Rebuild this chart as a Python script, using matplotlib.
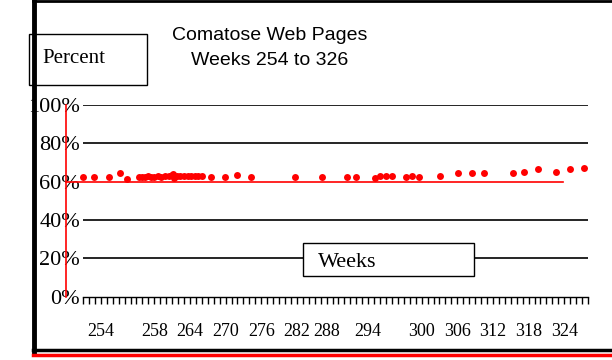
import matplotlib
matplotlib.use("Agg")
import matplotlib.pyplot as plt
from matplotlib.lines import Line2D
from matplotlib.patches import Rectangle

# week slot positions (category index along the axis) and percent comatose
x_pos = [0.0, 1.85, 4.4, 6.3, 7.4,
         9.5, 10.0, 10.5, 11.0, 11.5, 12.0, 12.6, 13.2, 13.8, 14.4,
         15.0, 15.2, 15.3, 15.8, 16.4, 17.0, 17.6, 18.2, 18.8, 19.4, 20.0,
         21.6, 23.9, 26.0, 28.3, 35.7, 40.2, 44.4, 45.9, 49.2, 50.0,
         51.0, 52.0, 54.4, 55.4, 56.6, 60.1, 63.1, 65.5, 67.5, 72.3,
         74.2, 76.5, 79.6, 82.0, 84.3]
pct = [62.4, 62.7, 62.4, 64.5, 61.4,
       62.6, 62.3, 62.4, 62.8, 62.5, 62.7, 63.0, 62.7, 63.2, 63.0,
       63.6, 64.2, 61.9, 63.0, 62.9, 63.1, 62.9, 62.8, 62.9, 62.9, 62.8,
       62.6, 62.6, 63.3, 62.6, 62.7, 62.6, 62.3, 62.3, 62.1, 63.0,
       63.0, 63.0, 62.6, 63.1, 62.6, 63.0, 64.4, 64.4, 64.3, 64.3,
       65.2, 66.4, 65.2, 66.4, 66.9]

n_slots = 85
label_pos = [3, 12, 18, 24, 30, 36, 41, 48, 57, 63, 69, 75, 81]
label_txt = ["254", "258", "264", "270", "276", "282", "288", "294",
             "300", "306", "312", "318", "324"]
grid_levels = [20, 40, 80, 100]
ref_level = 60
y_ticks = [0, 20, 40, 60, 80, 100]

serif = "Liberation Serif"
sans = "Liberation Sans"

W, H = 612, 360
fig = plt.figure(figsize=(W / 100, H / 100), dpi=100)
fig.patch.set_facecolor("white")

def fx(px):
    return px / W

def fy(py):
    return 1 - py / H

ax = fig.add_axes([fx(83), fy(296.7), fx(588) - fx(83), fy(105) - fy(296.7)])
ax.set_xlim(0, n_slots)
ax.set_ylim(0, 100)
for s in ["top", "right", "left"]:
    ax.spines[s].set_visible(False)
ax.spines["bottom"].set_linewidth(1)

for g in grid_levels:
    ax.axhline(g, color="black", lw=1.2, zorder=1)

# red reference line and red left rule
ax.axhline(ref_level, xmin=(66 - 83) / 505, xmax=(563 - 83) / 505,
           color="red", lw=1.2, clip_on=False, zorder=2)
ax.plot([(66 - 83) / 505] * 2, [0, 1], transform=ax.transAxes,
        color="red", lw=1.2, clip_on=False, zorder=2)

ax.plot(x_pos, pct, "o", color="red", markersize=5, markeredgewidth=0,
        zorder=3, clip_on=False)

ax.set_xticks(label_pos)
ax.set_xticklabels(label_txt, fontfamily=serif, fontsize=13)
ax.set_xticks(range(0, n_slots + 1), minor=True)
ax.tick_params(axis="x", which="both", direction="out", length=5,
               width=1, pad=14)
ax.set_yticks(y_ticks)
ax.set_yticklabels([f"{v}%" for v in y_ticks], fontfamily=serif, fontsize=16)
ax.tick_params(axis="y", length=0, pad=2)

# title
fig.text(fx(270), fy(40), "Comatose Web Pages", ha="center", va="baseline",
         fontsize=14, fontfamily=sans)
fig.text(fx(270), fy(65), "Weeks 254 to 326", ha="center", va="baseline",
         fontsize=14, fontfamily=sans)

# label boxes
fig.add_artist(Rectangle((fx(29), fy(85)), fx(147) - fx(29), fy(34) - fy(85),
                         facecolor="white", edgecolor="black", lw=1,
                         transform=fig.transFigure))
fig.text(fx(42), fy(63), "Percent", ha="left", va="baseline",
         fontsize=15, fontfamily=serif)
fig.add_artist(Rectangle((fx(303), fy(276)), fx(474) - fx(303), fy(243) - fy(276),
                         facecolor="white", edgecolor="black", lw=1,
                         transform=fig.transFigure, zorder=5))
fig.text(fx(318), fy(267), "Weeks", ha="left", va="baseline",
         fontsize=16, fontfamily=serif, zorder=6)

# frame lines
fig.add_artist(Line2D([fx(33), fx(612)], [fy(1), fy(1)], color="black", lw=2))
fig.add_artist(Line2D([fx(33.5), fx(33.5)], [fy(0), fy(352)], color="black", lw=3.5))
fig.add_artist(Line2D([fx(33), fx(612)], [fy(350), fy(350)], color="black", lw=2.5))
fig.add_artist(Line2D([fx(33), fx(612)], [fy(354.5), fy(354.5)], color="red", lw=2.5))

fig.savefig("out.png", dpi=100)
